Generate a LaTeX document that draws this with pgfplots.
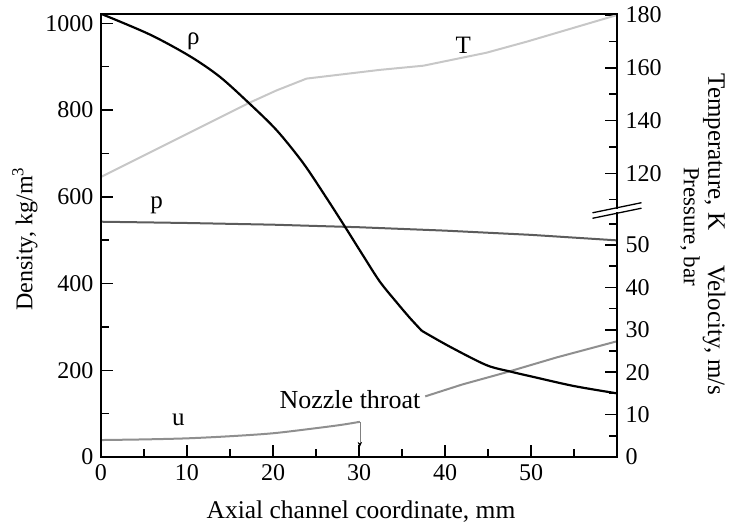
\documentclass[border=0pt]{standalone}
\usepackage{fontspec}
\setmainfont{Liberation Serif}
\usepackage{pgfplots}
\pgfplotsset{compat=1.18}
\usetikzlibrary{arrows.meta}

\definecolor{Tgray}{gray}{0.78}
\definecolor{pgray}{gray}{0.36}
\definecolor{ugray}{gray}{0.56}
\newcommand{\fsz}{\fontsize{25bp}{30bp}\selectfont}
\newcommand{\tsz}{\fontsize{24bp}{28bp}\selectfont}

\pgfplotsset{
  base/.style={
    scale only axis, width=516bp, height=443bp,
    at={(0,0)}, anchor=south west,
    xmin=0, xmax=60,
    /pgf/number format/assume math mode=true,
    /pgf/number format/1000 sep={},
    major tick length=12bp, minor tick length=8bp,
    every tick/.style={black, line width=1.5bp},
    axis line style={line width=2bp},
    tick label style={font=\tsz},
  }
}

\begin{document}
\begin{tikzpicture}[font=\fsz]
\useasboundingbox (-101bp,-71bp) rectangle (633bp,457bp);

% Temperature axis (upper right)
\begin{axis}[base,
  ymin=12.4, ymax=180.4,
  hide x axis,
  axis y line*=right,
  ytick={120,140,160,180},
  minor ytick={110,130,150,170},
  yticklabel style={xshift=5bp},
]
\addplot[Tgray, line width=2bp] coordinates {
(0,118.6) (17.1,146.5) (20.4,151.4) (23.9,155.9)
(32.4,159.2) (37.5,160.8) (44.8,165.7) (49.5,169.9) (60,180)
};
\end{axis}

% Pressure / velocity axis (lower right)
\begin{axis}[base,
  ymin=0, ymax=104.5,
  hide x axis,
  axis y line*=right,
  ytick={0,10,...,50},
  minor ytick={5,15,...,55},
  yticklabel style={xshift=5bp},
]
\addplot[pgray, line width=2bp] coordinates {
(0,55.5) (10,55.2) (20,54.8) (30,54.2) (40,53.4) (50,52.4) (60,51.1)
};
\addplot[ugray, line width=2bp, smooth] coordinates {
(0,4.0) (5,4.15) (10,4.4) (15,4.9) (20,5.6) (25,6.8) (28,7.6) (30.1,8.3)
};
\addplot[ugray, line width=2bp] coordinates {
(37.7,14.3) (42,17.1) (47,19.9) (53,23.5) (60,27.3)
};
\draw[gray, line width=0.7bp, -{Stealth[length=5bp,width=4.5bp,black]}] (axis cs:30.1,8.3) -- (axis cs:30.1,2.4);
\end{axis}

% Density axis
\begin{axis}[base,
  ymin=0, ymax=1021.5,
  tick pos=left,
  xtick={0,10,...,50},
  minor xtick={5,15,...,55},
  ytick={0,200,...,1000},
  minor ytick={100,300,...,900},
  xticklabel style={yshift=-4bp},
  yticklabel style={xshift=-4bp},
]
\addplot[black, line width=2.2bp, smooth, tension=0.5] coordinates {
(0,1022) (5.7,974) (10.35,924) (13.8,877) (17.1,818) (20.4,754)
(23.5,678) (26.2,598) (28.4,530) (30.3,470) (32.4,405)
(34.4,356) (35.9,321) (37.3,291)
};
\addplot[black, line width=2.2bp, smooth, tension=0.5] coordinates {
(37.3,291) (40.6,254) (44.8,212) (47.6,197)
(50.2,185) (54.9,164) (59.6,148) (60,147)
};
\end{axis}

% axis break
\draw[white, line width=3bp] (516bp,244.6bp) -- (516bp,248.4bp);
\draw[line width=1.3bp] (491.5bp,238.7bp) -- (540.5bp,248.8bp);
\draw[line width=1.3bp] (491.5bp,244.2bp) -- (540.5bp,254.3bp);

% curve labels
\node[anchor=base] at (92.3bp,412bp) {ρ};
\node[anchor=base] at (362.3bp,403bp) {T};
\node[anchor=base] at (55.7bp,248.7bp) {p};
\node[anchor=base] at (77.3bp,31.3bp) {u};
\node[anchor=base, font=\fontsize{26bp}{30bp}\selectfont] at (249bp,48.5bp) {Nozzle throat};

% axis labels
\node[anchor=base, font=\fontsize{25.5bp}{30bp}\selectfont] at (260bp,-61bp) {Axial channel coordinate, mm};
\node[rotate=90, font=\fontsize{24bp}{30bp}\selectfont] at (-76bp,218bp) {Density, kg/m\textsuperscript{3}};
\node[rotate=-90] at (613bp,305bp) {Temperature, K};
\node[rotate=-90] at (613bp,126.5bp) {Velocity, m/s};
\node[rotate=-90, font=\fontsize{23bp}{28bp}\selectfont] at (589bp,230.5bp) {Pressure, bar};
\end{tikzpicture}
\end{document}
